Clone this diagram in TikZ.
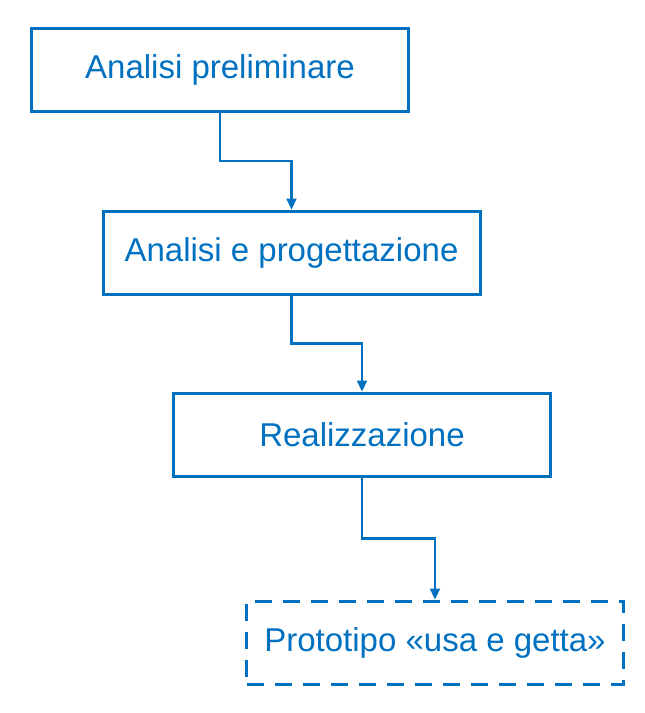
\documentclass[tikz,border=0pt]{standalone}
\usepackage{fontspec}
\setmainfont{Liberation Sans}
\usetikzlibrary{arrows.meta,calc}
\definecolor{blu}{HTML}{0070C0}
\begin{document}
\begin{tikzpicture}[x=1pt,y=-1pt,
  stepbox/.style={draw=blu,line width=3pt,minimum width=377pt,minimum height=83pt,inner sep=0pt,text=blu,font=\fontsize{33}{40}\selectfont},
  dbox/.style={stepbox,dash pattern=on 17pt off 11pt},
  conn/.style={draw=blu,line width=2.2pt,-{Triangle[width=10pt,length=11pt]}}]
\useasboundingbox (0,0) rectangle (645,713);
\node[stepbox] (a) at (220,70) {Analisi preliminare};
\node[stepbox] (b) at (291.5,252.5) {Analisi e progettazione};
\node[stepbox] (c) at (362,434.5) {Realizzazione};
\node[dbox] (d) at (435,642.5) {Prototipo «usa e getta»};
\draw[conn] (a.south) |- ($(a.south)!.5!(b.north)$) -| (b.north);
\draw[conn] (b.south) |- ($(b.south)!.5!(c.north)$) -| (c.north);
\draw[conn] (c.south) |- ($(c.south)!.5!(d.north)$) -| (d.north);
\end{tikzpicture}
\end{document}
